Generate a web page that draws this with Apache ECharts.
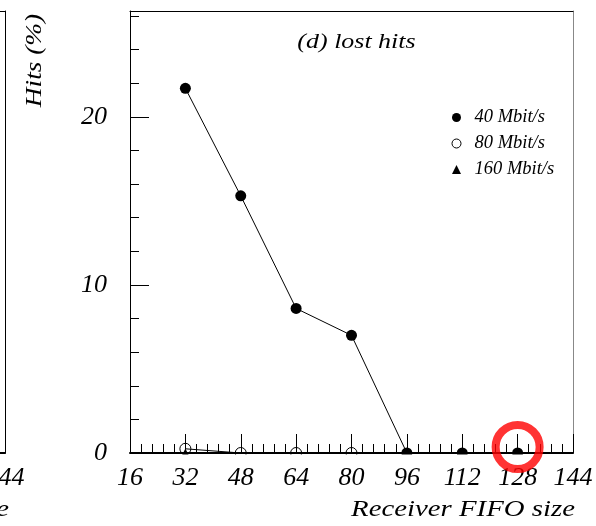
<!DOCTYPE html>
<html>
<head>
<meta charset="utf-8">
<script src="https://cdn.jsdelivr.net/npm/echarts@6/dist/echarts.min.js"></script>
<style>
  html, body { margin: 0; padding: 0; background: #fff; }
  #chart { width: 596px; height: 526px; }
</style>
</head>
<body>
<div id="chart"></div>
<script>
// Lost hits (%) versus receiver FIFO size, one series per link speed
const fifoSizes40 = [32, 48, 64, 80, 96, 112, 128];
const lostHits40 = [21.7, 15.3, 8.6, 7.0, 0, 0, 0];
const fifoSizes80 = [32, 48, 64, 80];
const lostHits80 = [0.25, 0, 0, 0];
const fifoSizes160 = [32];
const lostHits160 = [0];

const seriesNames = ['40 Mbit/s', '80 Mbit/s', '160 Mbit/s'];
const xTickLabels = ['16', '32', '48', '64', '80', '96', '112', '128', '144'];
const yTickLabels = ['0', '10', '20'];
const yRangeMax = 26.3;
const highlightedFifo = 128;

const titleText = '(d) lost hits';
const xAxisTitle = 'Receiver FIFO size';
const yAxisTitle = 'Hits (%)';

const pairs = (xs, ys) => xs.map((x, i) => [x, ys[i]]);

const xMin = Number(xTickLabels[0]);
const xMax = Number(xTickLabels[xTickLabels.length - 1]);
const xStep = Number(xTickLabels[1]) - xMin;
const yStep = Number(yTickLabels[1]) - Number(yTickLabels[0]);

const serif = '"Liberation Serif", "Times New Roman", Times, serif';
const tickFont = { fontFamily: serif, fontStyle: 'italic', fontSize: 26, color: '#000' };
const black = '#000';

const chart = echarts.init(document.getElementById('chart'), null, { renderer: 'canvas' });

function bottomAxis(gridIndex) {
  return {
    type: 'value', gridIndex, position: 'bottom',
    min: xMin, max: xMax, interval: xStep,
    axisLine: { show: true, onZero: false, lineStyle: { color: black, width: 2 } },
    axisTick: { show: true, inside: true, length: 19, lineStyle: { color: black, width: 1 } },
    minorTick: { show: true, splitNumber: 5, length: 9, lineStyle: { color: black, width: 1 } },
    axisLabel: Object.assign({ margin: 12, showMinLabel: true, showMaxLabel: true, hideOverlap: false,
      formatter: v => String(v) }, tickFont),
    splitLine: { show: false }, minorSplitLine: { show: false }
  };
}
function frameAxis(gridIndex, position, color, extra) {
  return Object.assign({
    type: 'value', gridIndex, position,
    axisLine: { show: true, onZero: false, lineStyle: { color, width: 1 } },
    axisTick: { show: false }, axisLabel: { show: false }, splitLine: { show: false }
  }, extra);
}

const option = {
  animation: false,
  backgroundColor: '#fff',
  grid: [
    { left: 130, top: 11, width: 443, height: 442, containLabel: false, outerBoundsMode: 'none' },
    { left: -438, top: 11, width: 443, height: 442, containLabel: false, outerBoundsMode: 'none' }
  ],
  xAxis: [
    bottomAxis(0),
    frameAxis(0, 'top', black, { min: xMin, max: xMax }),
    bottomAxis(1),
    frameAxis(1, 'top', black, { min: xMin, max: xMax })
  ],
  yAxis: [
    {
      type: 'value', gridIndex: 0, position: 'left',
      min: 0, max: yRangeMax, interval: yStep,
      axisLine: { show: true, onZero: false, lineStyle: { color: black, width: 1 } },
      axisTick: { show: true, inside: true, length: 19, lineStyle: { color: black, width: 1 } },
      axisLabel: Object.assign({ margin: 23, showMaxLabel: true, hideOverlap: false,
        formatter: v => (yTickLabels.indexOf(String(v)) >= 0 ? String(v) : '') }, tickFont),
      splitLine: { show: false }
    },
    {
      // minor ticks every 2 %
      type: 'value', gridIndex: 0, position: 'left',
      min: 0, max: yRangeMax, interval: yStep / 5,
      axisLine: { show: false },
      axisTick: { show: true, inside: true, length: 9, lineStyle: { color: black, width: 1 } },
      axisLabel: { show: false }, splitLine: { show: false }
    },
    frameAxis(0, 'right', '#888', { min: 0, max: yRangeMax }),
    frameAxis(1, 'right', black, { min: 0, max: yRangeMax })
  ],
  legend: {
    orient: 'vertical', left: 446.5, top: 103, padding: 5,
    itemWidth: 9, itemHeight: 9, itemGap: 7,
    selectedMode: false,
    textStyle: { fontFamily: serif, fontStyle: 'italic', fontSize: 18.5, lineHeight: 17, color: black,
      padding: [0, 0, 0, 8.5] },
    data: [
      { name: seriesNames[0], icon: 'circle', itemStyle: { color: black, borderWidth: 0 } },
      { name: seriesNames[1], icon: 'circle', itemStyle: { color: '#fff', borderColor: black, borderWidth: 1 } },
      { name: seriesNames[2], icon: 'triangle', itemStyle: { color: black, borderWidth: 0 } }
    ]
  },
  series: [
    {
      name: seriesNames[0], type: 'line', xAxisIndex: 0, yAxisIndex: 0,
      data: pairs(fifoSizes40, lostHits40),
      symbol: 'circle', symbolSize: 11, showAllSymbol: true, clip: false,
      lineStyle: { color: black, width: 1 },
      itemStyle: { color: black, borderWidth: 0 },
      emphasis: { disabled: true }, z: 3
    },
    {
      name: seriesNames[1], type: 'line', xAxisIndex: 0, yAxisIndex: 0,
      data: pairs(fifoSizes80, lostHits80),
      symbol: 'circle', symbolSize: 11, showAllSymbol: true, clip: false,
      lineStyle: { color: black, width: 1 },
      itemStyle: { color: 'rgba(255,255,255,0)', borderColor: black, borderWidth: 1 },
      emphasis: { disabled: true }, z: 3
    },
    {
      name: seriesNames[2], type: 'line', xAxisIndex: 0, yAxisIndex: 0,
      data: pairs(fifoSizes160, lostHits160),
      symbol: 'triangle', symbolSize: 9, showAllSymbol: true, clip: false,
      lineStyle: { color: black, width: 1 },
      itemStyle: { color: black, borderWidth: 0 },
      emphasis: { disabled: true }, z: 3
    },
    {
      // red ring drawn around the 128-entry point
      type: 'scatter', xAxisIndex: 0, yAxisIndex: 0, silent: true, clip: false,
      data: [[highlightedFifo, lostHits40[fifoSizes40.indexOf(highlightedFifo)]]],
      symbol: 'circle', symbolSize: 44, symbolOffset: [0, -6],
      itemStyle: { color: 'rgba(0,0,0,0)', borderColor: '#ff0000', borderWidth: 8 },
      emphasis: { disabled: true }, z: 20
    }
  ]
};

chart.setOption(option);

// Markers sitting on the zero line are cut off at the frame, as in a clipped pad.
const p0 = chart.convertToPixel({ gridIndex: 0 }, [xMin, 0]);
const p1 = chart.convertToPixel({ gridIndex: 0 }, [xMax, 0]);
const titleAt = chart.convertToPixel({ gridIndex: 0 }, [xMin + (xMax - xMin) * 0.5, 0]);

const textEl = (text, x, y, size, align, stretch, rotation) => ({
  type: 'text', silent: true, z: 10, x, y, rotation: rotation || 0, scaleX: stretch,
  style: { text, font: 'italic ' + size + 'px ' + serif, fill: black, align, verticalAlign: 'middle' }
});

chart.setOption({
  graphic: [
    {
      type: 'rect', silent: true, z: 10,
      shape: { x: p0[0] + 1, y: p0[1] + 1.4, width: p1[0] - p0[0] - 1, height: 7 },
      style: { fill: '#fff' }
    },
    textEl(titleText, titleAt[0] + 5, 42, 22, 'center', 1.18),
    textEl(yAxisTitle, 35, 60.5, 24, 'center', 1.14, Math.PI / 2),
    textEl(xAxisTitle, 575, 510, 24, 'right', 1.2),
    textEl(xAxisTitle, 9, 510, 24, 'right', 1.2)
  ]
});
</script>
</body>
</html>
